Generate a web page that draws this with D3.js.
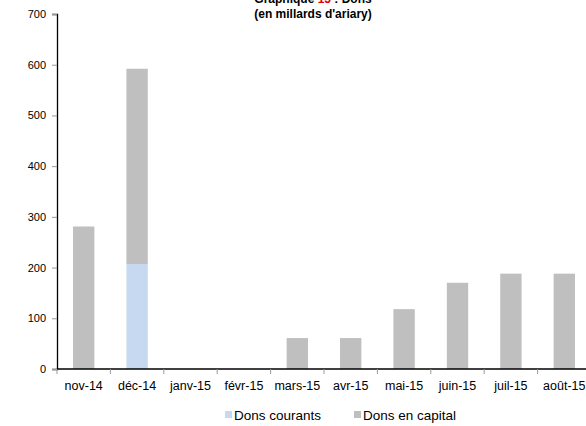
<!DOCTYPE html>
<html>
<head>
<meta charset="utf-8">
<script src="https://cdn.jsdelivr.net/npm/d3@7"></script>
<style>
  body { margin: 0; background: #fff; }
  text { font-family: "Liberation Sans", Arial, sans-serif; }
</style>
</head>
<body>
<script>
// data
var months = ["nov-14", "déc-14", "janv-15", "févr-15", "mars-15", "avr-15", "mai-15", "juin-15", "juil-15", "août-15"];
var donsCourants = [0, 207, 0, 0, 0, 0, 0, 0, 0, 0];
var donsCapital = [281, 385, 0, 0, 61, 61, 118, 170, 188, 188];
var seriesNames = ["Dons courants", "Dons en capital"];
var seriesColors = ["#c6d9f0", "#bfbfbf"];
var yTicks = [0, 100, 200, 300, 400, 500, 600, 700];

var width = 586, height = 426;
var margin = {top: 14, right: 0, bottom: 57, left: 57};

var svg = d3.select("body").append("svg")
    .attr("width", width)
    .attr("height", height);

var x = d3.scaleBand()
    .domain(months)
    .range([margin.left, margin.left + 534])
    .paddingInner(0.6)
    .paddingOuter(0.3);

var y = d3.scaleLinear()
    .domain([0, 700])
    .range([height - margin.bottom, margin.top]);

// stack the two series
var rows = months.map(function(m, i) {
    return {month: m, courants: donsCourants[i], capital: donsCapital[i]};
});
var stacked = d3.stack().keys(["courants", "capital"])(rows);

svg.append("g")
    .selectAll("g")
    .data(stacked)
    .enter().append("g")
    .attr("fill", function(d, i) { return seriesColors[i]; })
    .selectAll("rect")
    .data(function(d) { return d; })
    .enter().append("rect")
    .attr("x", function(d) { return x(d.data.month); })
    .attr("y", function(d) { return y(d[1]); })
    .attr("width", x.bandwidth())
    .attr("height", function(d) { return y(d[0]) - y(d[1]); });

// y axis
var yAxis = svg.append("g")
    .attr("transform", "translate(" + margin.left + ",0)")
    .call(d3.axisLeft(y).tickValues(yTicks).tickSize(5).tickPadding(6));
yAxis.select(".domain").attr("stroke", "#000").attr("stroke-width", 1.3);
yAxis.selectAll(".tick line").attr("stroke", "#999");
yAxis.selectAll("text").style("font-size", "11px").attr("fill", "#000");

// x axis
var step = x.step();
var xAxis = svg.append("g")
    .attr("transform", "translate(0," + y(0) + ")");
xAxis.append("line")
    .attr("x1", margin.left).attr("x2", width)
    .attr("stroke", "#000").attr("stroke-width", 1.3);
xAxis.selectAll(".xt")
    .data(months)
    .enter().append("line")
    .attr("x1", function(d, i) { return margin.left + i * step; })
    .attr("x2", function(d, i) { return margin.left + i * step; })
    .attr("y1", 0).attr("y2", 5)
    .attr("stroke", "#999");
xAxis.selectAll(".xl")
    .data(months)
    .enter().append("text")
    .attr("x", function(d) { return x(d) + x.bandwidth() / 2; })
    .attr("y", 21)
    .attr("text-anchor", "middle")
    .style("font-size", "12.5px")
    .text(function(d) { return d; });

// title (first line cut at the top, as in the source)
var title = svg.append("text")
    .attr("x", 313).attr("y", 3)
    .attr("text-anchor", "middle")
    .style("font-size", "12px")
    .style("font-weight", "bold");
title.append("tspan").text("Graphique ");
title.append("tspan").attr("fill", "#e00000").text("15");
title.append("tspan").text(" : Dons");
svg.append("text")
    .attr("x", 313).attr("y", 18)
    .attr("text-anchor", "middle")
    .style("font-size", "12px")
    .style("font-weight", "bold")
    .text("(en millards d'ariary)");

// legend
var legendX = [225, 354];
var legend = svg.append("g").selectAll("g")
    .data(seriesNames)
    .enter().append("g")
    .attr("transform", function(d, i) { return "translate(" + legendX[i] + ",420)"; });
legend.append("rect")
    .attr("x", 0).attr("y", -9)
    .attr("width", 7).attr("height", 7)
    .attr("fill", function(d, i) { return seriesColors[i]; });
legend.append("text")
    .attr("x", 9).attr("y", 0)
    .style("font-size", "13.5px")
    .text(function(d) { return d; });
</script>
</body>
</html>
